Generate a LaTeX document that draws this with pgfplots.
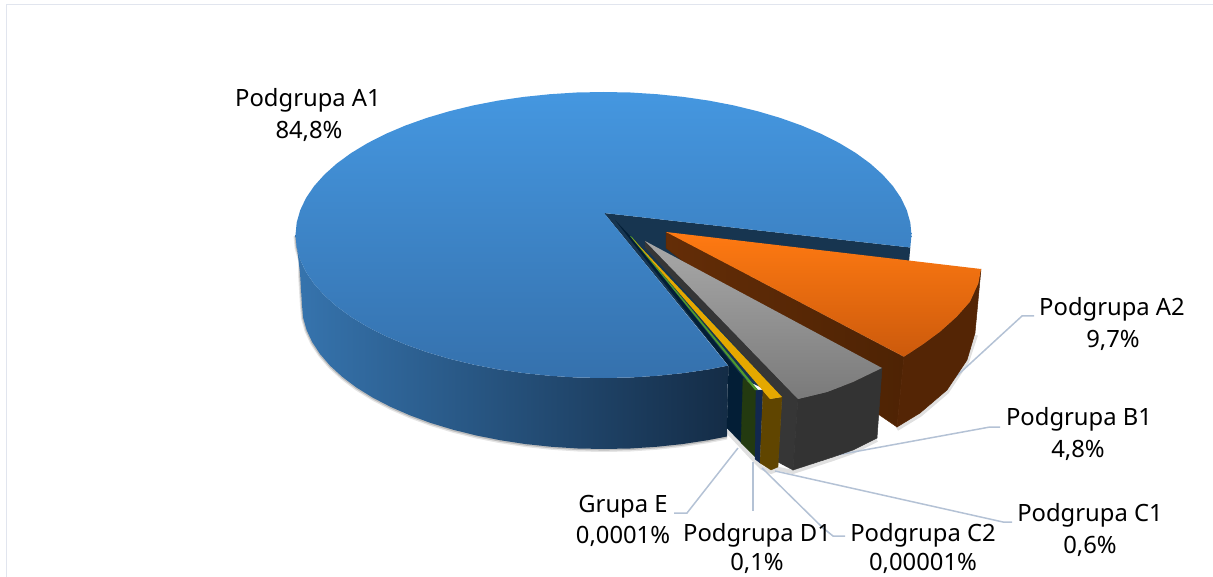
\documentclass[border=0pt]{standalone}
\usepackage{pgfplots}
\pgfplotsset{compat=1.18}
\usepackage{pgfplotstable}
\usepackage{fontspec}
\setmainfont{Noto Sans}
\definecolor{frameC}{HTML}{E1E5EE}
\definecolor{leadC}{HTML}{B4C2D5}
\newcommand{\lab}[1]{{\fontsize{23.8}{26}\selectfont #1}}
\pgfplotstableread{
x y
295.5 235
296.7 247.5
300.2 259.8
300 273
302 305
303.1 317.6
306.6 330
312.3 342.3
320.2 354.2
330.3 365.9
342.5 377
356.6 387.6
372.7 397.6
390.5 406.8
409.9 415.3
430.8 423
453 429.7
476.4 435.5
500.7 440.3
525.8 444.1
551.6 446.8
577.7 448.5
604 449
630.3 448.5
656.4 446.8
682.2 444.1
707.3 440.3
727 436.5
}\blueBottom
\begin{document}
\begin{tikzpicture}
\path[use as bounding box] (0,0) rectangle (1213pt,577pt);
\begin{axis}[
  at={(0,0)}, anchor=south west,
  width=1213pt, height=577pt, scale only axis,
  xmin=0, xmax=1213, ymin=0, ymax=577, y dir=reverse,
  hide axis, clip=true,
]
% frame
\addplot[frameC, line width=1.6pt] coordinates {(6.5,577)(6.5,4.5)(1213,4.5)};
% soft shadows
\addplot[black, opacity=0.10, line width=4pt] table[x=x,y=y,y expr=\thisrow{y}+1] {\blueBottom};
\addplot[black, opacity=0.18, line width=2pt] table[x=x,y=y,y expr=\thisrow{y}+0.6] {\blueBottom};
\addplot[black, opacity=0.12, line width=4pt] coordinates {(727,431)(741,446)(755,461)(762,468)(771,472)(779,469)(793,472)(833,459)(853,452)(877,440)};
\addplot[black, opacity=0.12, line width=4pt] coordinates {(897,429)(920,415)(947,392)(967,362)(976,335)};
% leader lines
\addplot[leadC, line width=1.5pt] coordinates {(949,383)(1022,316)(1034,316)};
\addplot[leadC, line width=1.5pt] coordinates {(837,455)(990,427)(1000,427)};
\addplot[leadC, line width=1.5pt] coordinates {(775,471)(1003,522)(1012,522)};
\addplot[leadC, line width=1.5pt] coordinates {(762,468)(823,528)(833,536)(845,536)};
\addplot[leadC, line width=1.5pt] coordinates {(753,462)(753,511)};
\addplot[leadC, line width=1.5pt] coordinates {(738,448)(687,513)(674,513)};
% blue side
\addplot[draw=none, left color={rgb,255:red,54;green,116;blue,174}, right color={rgb,255:red,20;green,44;blue,70}] coordinates {
(295.5,235)(296.7,247.5)(300.2,259.8)(306,272)(314.1,283.9)(324.4,295.4)(336.8,306.5)(351.2,317)(367.6,326.9)(385.7,336.1)(405.5,344.5)(426.8,352.1)(449.5,358.8)(473.3,364.6)(498.2,369.4)(523.8,373.1)(550,375.8)(576.6,377.5)(603.5,378)(630.4,377.5)(657,375.8)(683.2,373.1)(708.8,369.4)(728,365.6)
(727,436.5)(707.3,440.3)(682.2,444.1)(656.4,446.8)(630.3,448.5)(604,449)(577.7,448.5)(551.6,446.8)(525.8,444.1)(500.7,440.3)(476.4,435.5)(453,429.7)(430.8,423)(409.9,415.3)(390.5,406.8)(372.7,397.6)(356.6,387.6)(342.5,377)(330.3,365.9)(320.2,354.2)(312.3,342.3)(306.6,330)(303.1,317.6)(302,305)(300,273)
} --cycle;
% wall behind the wedge
\addplot[draw=none, fill={rgb,255:red,23;green,53;blue,80}] coordinates {
(604,213)(910.3,247.5)(909,262)(700,280)(782,397)(745,380)(728,365)
} --cycle;
% blue top
\addplot[draw=none, top color={rgb,255:red,69;green,151;blue,224}, bottom color={rgb,255:red,53;green,113;blue,173}] coordinates {
(604,213)(910.3,247.5)(911.5,235)(910.3,222.5)(906.8,210.2)(901,198)(892.9,186.1)(882.6,174.6)(870.2,163.5)(855.8,153)(839.4,143.1)(821.3,133.9)(801.5,125.5)(780.2,117.9)(757.5,111.2)(733.7,105.4)(708.8,100.6)(683.2,96.9)(657,94.2)(630.4,92.5)(603.5,92)
(576.6,92.5)(550,94.2)(523.8,96.9)(498.2,100.6)(473.3,105.4)(449.5,111.2)(426.8,117.9)(405.5,125.5)(385.7,133.9)(367.6,143.1)(351.2,153)(336.8,163.5)(324.4,174.6)(314.1,186.1)(306,198)(300.2,210.2)(296.7,222.5)(295.5,235)
(296.7,247.5)(300.2,259.8)(306,272)(314.1,283.9)(324.4,295.4)(336.8,306.5)(351.2,317)(367.6,326.9)(385.7,336.1)(405.5,344.5)(426.8,352.1)(449.5,358.8)(473.3,364.6)(498.2,369.4)(523.8,373.1)(550,375.8)(576.6,377.5)(603.5,378)(630.4,377.5)(657,375.8)(683.2,373.1)(708.8,369.4)(728,365.6)
} --cycle;
% dark sliver and front walls of the blue slice
\addplot[draw=none, fill={rgb,255:red,3;green,30;blue,54}] coordinates {(615,220)(632,238)(745,380)(728.5,365.6)} --cycle;
\addplot[draw={rgb,255:red,3;green,30;blue,54}, line width=0.4pt, fill={rgb,255:red,3;green,30;blue,54}] coordinates {(728.5,365)(743.5,378)(741.5,443)(727,428)} --cycle;
% orange
\addplot[draw={rgb,255:red,90;green,41;blue,6}, line width=0.5pt, left color={rgb,255:red,100;green,45;blue,7}, right color={rgb,255:red,78;green,35;blue,4}] coordinates {(666,232)(904,357)(897,427)(878,414)(666,248)} --cycle;
\addplot[draw={rgb,255:red,84;green,37;blue,5}, line width=0.5pt, fill={rgb,255:red,84;green,37;blue,5}] coordinates {(981,269)(978.3,283.3)(970,301.7)(956.7,316.7)(940,331.7)(923.3,344)(904,356.7)(897,427)(920,413)(947,390)(967,360)(975,333)} --cycle;
\addplot[draw=none, top color={rgb,255:red,255;green,122;blue,18}, bottom color={rgb,255:red,204;green,90;blue,12}] coordinates {(666,232)(981,269)(978.3,283.3)(970,301.7)(956.7,316.7)(940,331.7)(923.3,344)(904,356.7)} --cycle;
% grey
\addplot[draw={rgb,255:red,54;green,54;blue,54}, line width=0.5pt, fill={rgb,255:red,54;green,54;blue,54}] coordinates {(645,241)(798,399)(793,470)(778,462)(782,397)(645,247)} --cycle;
\addplot[draw={rgb,255:red,51;green,51;blue,51}, line width=0.5pt, fill={rgb,255:red,51;green,51;blue,51}] coordinates {(882,368)(853,382)(827,392)(798,399)(793,470)(833,457)(853,450)(877,438)} --cycle;
\addplot[draw=none, top color={rgb,255:red,168;green,168;blue,168}, bottom color={rgb,255:red,122;green,122;blue,122}] coordinates {(645,241)(882,368)(853,382)(827,392)(798,399)} --cycle;
% green, navy, yellow
\addplot[draw={rgb,255:red,35;green,58;blue,16}, line width=0.3pt, fill={rgb,255:red,35;green,58;blue,16}] coordinates {(743,378)(757,389)(756,458)(741,443)} --cycle;
\addplot[draw={rgb,255:red,18;green,40;blue,79}, line width=0.3pt, fill={rgb,255:red,18;green,40;blue,79}] coordinates {(756,390)(763,390)(760,463)(755,459)} --cycle;
\addplot[draw=none, fill={rgb,255:red,79;green,154;blue,46}] coordinates {(630,236)(632,237)(758,390)(755,390)} --cycle;
\addplot[draw={rgb,255:red,96;green,69;blue,0}, line width=0.3pt, fill={rgb,255:red,96;green,69;blue,0}] coordinates {(763,391)(770,399)(782,397)(778,467)(771,470)(760,463)} --cycle;
\addplot[draw=none, fill={rgb,255:red,229;green,168;blue,0}] coordinates {(632,238)(782,397)(770,399)} --cycle;
% labels
\node at (axis cs:308,100.5) {\lab{Podgrupa A1}};
\node at (axis cs:309,131.5) {\lab{84,8\%}};
\node at (axis cs:1112,309.5) {\lab{Podgrupa A2}};
\node at (axis cs:1113,340.5) {\lab{9,7\%}};
\node at (axis cs:1079,419.5) {\lab{Podgrupa B1}};
\node at (axis cs:1078,450.5) {\lab{4,8\%}};
\node at (axis cs:1090,515.5) {\lab{Podgrupa C1}};
\node at (axis cs:1090,546.5) {\lab{0,6\%}};
\node at (axis cs:923,535.5) {\lab{Podgrupa C2}};
\node at (axis cs:923,563.5) {\lab{0,00001\%}};
\node at (axis cs:757,535.5) {\lab{Podgrupa D1}};
\node at (axis cs:757,563.5) {\lab{0,1\%}};
\node at (axis cs:623,506.5) {\lab{Grupa E}};
\node at (axis cs:623,536.5) {\lab{0,0001\%}};
\end{axis}
\end{tikzpicture}
\end{document}
